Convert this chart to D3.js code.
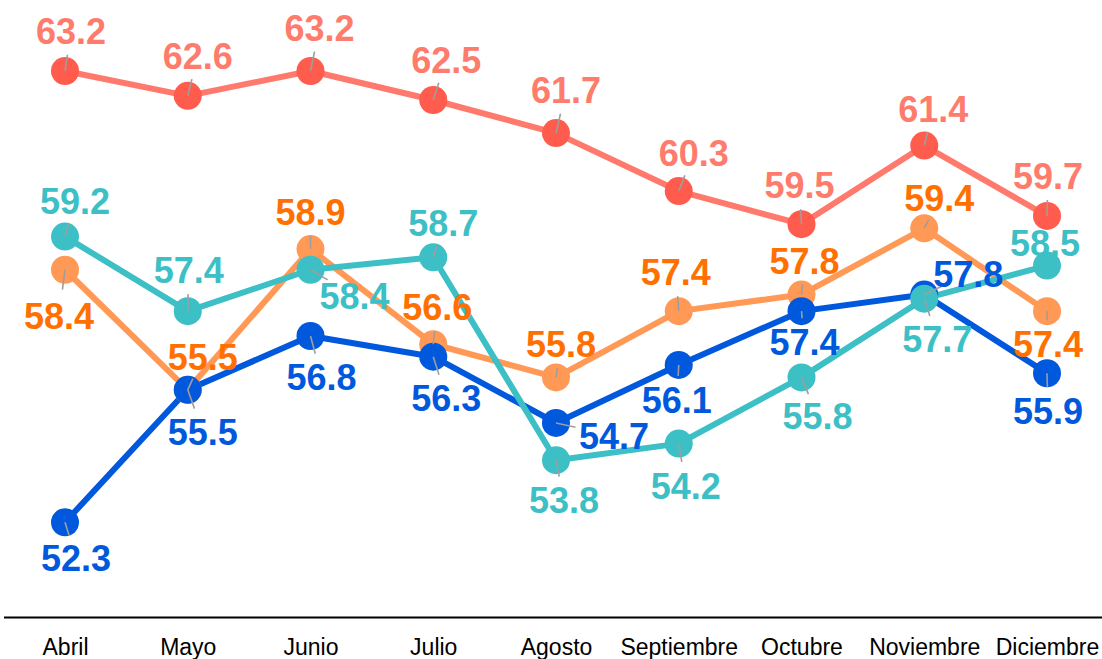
<!DOCTYPE html>
<html>
<head>
<meta charset="utf-8">
<script src="https://cdn.jsdelivr.net/npm/d3@7"></script>
<style>
  body { margin: 0; background: #fff; }
  svg { display: block; }
</style>
</head>
<body>
<script>
// Drawing area
const w = 1102;
const h = 659;

// Months on the x axis
const months = ["Abril", "Mayo", "Junio", "Julio", "Agosto", "Septiembre", "Octubre", "Noviembre", "Diciembre"];

// Series values
const redValues = [63.2, 62.6, 63.2, 62.5, 61.7, 60.3, 59.5, 61.4, 59.7];
const orangeValues = [58.4, 55.5, 58.9, 56.6, 55.8, 57.4, 57.8, 59.4, 57.4];
const blueValues = [52.3, 55.5, 56.8, 56.3, 54.7, 56.1, 57.4, 57.8, 55.9];
const tealValues = [59.2, 57.4, 58.4, 58.7, 53.8, 54.2, 55.8, 57.7, 58.5];

// Label nudges (px) so the labels don't collide, like a repel layout
const redNudge = [[6, -40], [10, -40], [9, -43], [13, -40], [10, -43], [15, -38], [-2, -39], [9, -37], [1, -40]];
const orangeNudge = [[-6, 46], [15, -33], [0, -37], [4, -37], [5, -33], [-3, -39], [3, -34], [15, -30], [1, 33]];
const blueNudge = [[11, 36], [15, 42], [11, 41], [13, 41], [58, 13], [-2, 35], [3, 31], [44, -21], [1, 38]];
const tealNudge = [[10, -36], [1, -41], [44, 26], [10, -34], [8, 40], [7, 42], [16, 39], [13, 40], [-2, -23]];

// Series in drawing order (later ones on top)
const series = [
  { name: "rojo", values: redValues, nudge: redNudge, line: "#FF796C", point: "#FF5C4D", label: "#FF7B6B" },
  { name: "naranja", values: orangeValues, nudge: orangeNudge, line: "#FF9955", point: "#FF9955", label: "#FF7000" },
  { name: "azul", values: blueValues, nudge: blueNudge, line: "#0058DD", point: "#0058DD", label: "#0058DD" },
  { name: "turquesa", values: tealValues, nudge: tealNudge, line: "#3DBFC6", point: "#3DBFC6", label: "#3DBFC6" }
];

const svg = d3.select("body").append("svg").attr("width", w).attr("height", h);

// Scales
const xScale = d3.scalePoint().domain(months).range([65, 1047]);
const yScale = d3.scaleLinear().domain([50, 65]).range([617.5, -3.5]);

const line = d3.line()
  .x((d, i) => xScale(months[i]))
  .y(d => yScale(d));

// All lines first, then all points (like ggplot layers)
svg.append("g")
  .selectAll("path")
  .data(series)
  .enter()
  .append("path")
  .attr("d", d => line(d.values))
  .attr("fill", "none")
  .attr("stroke", d => d.line)
  .attr("stroke-width", 6)
  .attr("stroke-linejoin", "round");

series.forEach(s => {
  svg.append("g")
    .selectAll("circle")
    .data(s.values)
    .enter()
    .append("circle")
    .attr("cx", (d, i) => xScale(months[i]))
    .attr("cy", d => yScale(d))
    .attr("r", 14)
    .attr("fill", s.point);
});

// Short grey leader segments from each point toward its label
series.forEach(s => {
  svg.append("g")
    .selectAll("line")
    .data(s.values)
    .enter()
    .append("line")
    .each(function (d, i) {
      const x0 = xScale(months[i]);
      const y0 = yScale(d);
      const dx = s.nudge[i][0];
      const dy = s.nudge[i][1];
      const dist = Math.sqrt(dx * dx + dy * dy);
      const len = Math.max(0, Math.min(20, dist - 24));
      d3.select(this)
        .attr("x1", x0)
        .attr("y1", y0)
        .attr("x2", x0 + dx / dist * len)
        .attr("y2", y0 + dy / dist * len);
    })
    .attr("stroke", "#9e9e9e")
    .attr("stroke-width", 1.6);
});

// Value labels
series.forEach(s => {
  svg.append("g")
    .selectAll("text")
    .data(s.values)
    .enter()
    .append("text")
    .attr("x", (d, i) => xScale(months[i]) + s.nudge[i][0])
    .attr("y", (d, i) => yScale(d) + s.nudge[i][1])
    .attr("dy", "0.36em")
    .attr("text-anchor", "middle")
    .attr("font-family", "'Liberation Sans', Arial, sans-serif")
    .attr("font-weight", "bold")
    .attr("font-size", 36)
    .attr("fill", s.label)
    .text(d => d.toFixed(1));
});

// Bottom axis: just a baseline and the month names
const xAxis = d3.axisBottom(xScale).tickSize(0).tickPadding(21);
const axisG = svg.append("g")
  .attr("transform", "translate(0," + yScale(50) + ")")
  .call(xAxis);

axisG.select(".domain")
  .attr("d", "M4,0H" + w)
  .attr("stroke", "#000")
  .attr("stroke-width", 2);

axisG.selectAll("text")
  .attr("font-family", "'Liberation Sans', Arial, sans-serif")
  .attr("font-size", 23)
  .attr("fill", "#000");
</script>
</body>
</html>
